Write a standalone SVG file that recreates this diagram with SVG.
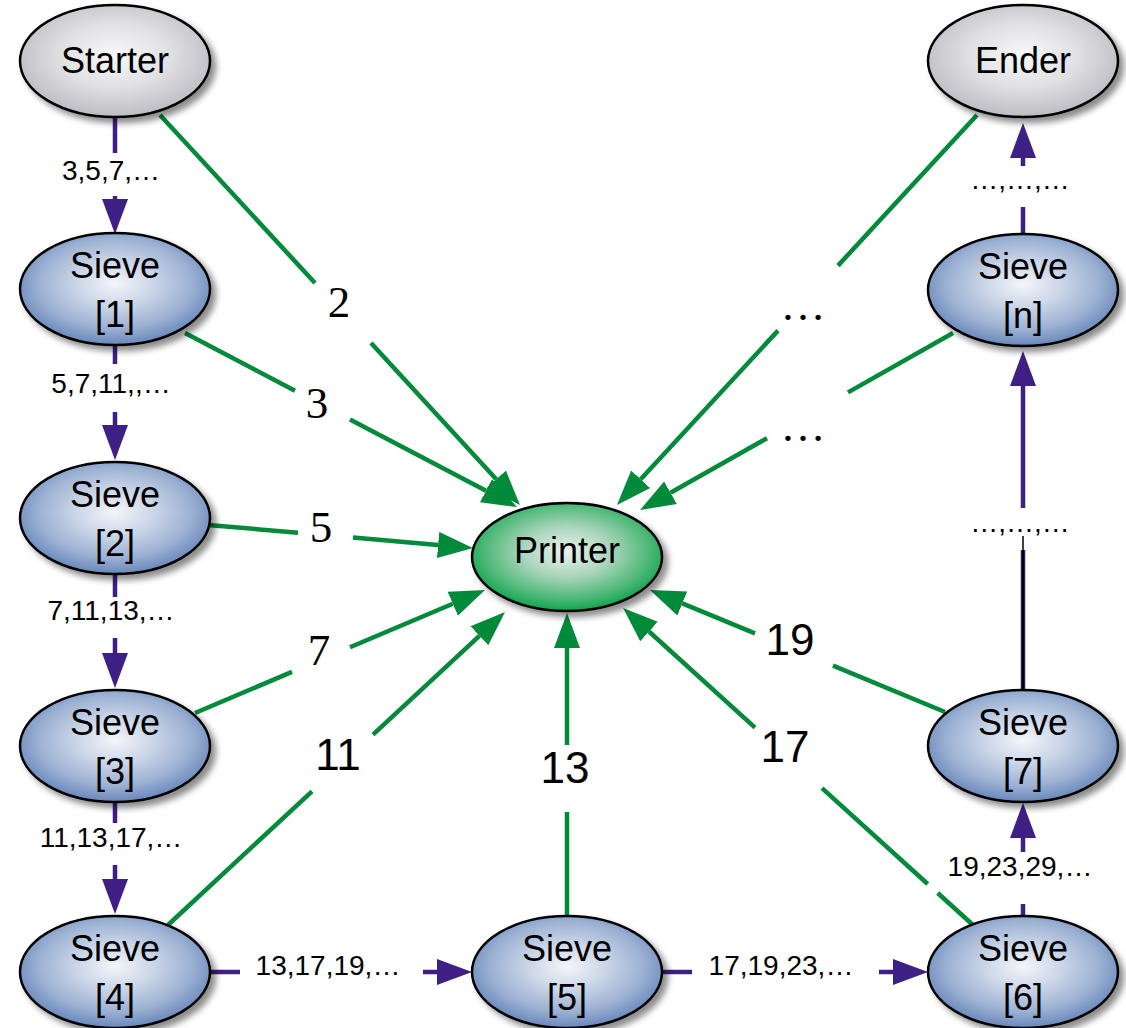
<svg xmlns="http://www.w3.org/2000/svg" width="1126" height="1028" viewBox="0 0 1126 1028">
<style>
.g{stroke:#008a3a;stroke-width:4.5;fill:none}
.p{stroke:#3e1f84;stroke-width:4.5;fill:none}
.nt{font-family:"Liberation Sans",Arial,sans-serif;font-size:36px;fill:#000;text-anchor:middle}
.sl{font-family:"Liberation Sans",Arial,sans-serif;font-size:28px;fill:#000;text-anchor:middle}
.bn{font-family:"Liberation Serif","Times New Roman",serif;font-size:45px;fill:#000;text-anchor:middle}
.bs{font-family:"Liberation Sans",Arial,sans-serif;font-size:44px;fill:#000;text-anchor:middle}
.el{stroke:#000;stroke-width:2.5;filter:url(#sh)}
</style>
<defs>
<radialGradient id="blue" cx="50%" cy="45%" r="58%">
<stop offset="0" stop-color="#f3f5f9"/>
<stop offset="0.35" stop-color="#cbd6e8"/>
<stop offset="0.7" stop-color="#9bb0d2"/>
<stop offset="1" stop-color="#5d7fb6"/>
</radialGradient>
<radialGradient id="gray" cx="50%" cy="45%" r="58%">
<stop offset="0" stop-color="#f8f8f9"/>
<stop offset="0.5" stop-color="#e0e0e3"/>
<stop offset="1" stop-color="#b8b8c0"/>
</radialGradient>
<radialGradient id="green" cx="50%" cy="45%" r="58%">
<stop offset="0" stop-color="#eaf3ee"/>
<stop offset="0.4" stop-color="#a9d5ba"/>
<stop offset="0.75" stop-color="#4db878"/>
<stop offset="1" stop-color="#00a043"/>
</radialGradient>
<filter id="sh" x="-20%" y="-20%" width="150%" height="160%">
<feDropShadow dx="5" dy="5" stdDeviation="3" flood-color="#000" flood-opacity="0.45"/>
</filter>
<marker id="ag" markerUnits="userSpaceOnUse" markerWidth="36" markerHeight="28" viewBox="0 -14 36 28" refX="0" refY="0" orient="auto">
<path d="M0,-13 L35,0 L0,13 z" fill="#008a3a"/>
</marker>
<marker id="ap" markerUnits="userSpaceOnUse" markerWidth="36" markerHeight="28" viewBox="0 -14 36 28" refX="0" refY="0" orient="auto">
<path d="M0,-13 L35,0 L0,13 z" fill="#3e1f84"/>
</marker>
</defs>
<rect width="1126" height="1028" fill="#fff"/>
<g id="connectors">
<line class="g" x1="160" y1="115" x2="315" y2="283"/>
<line class="g" x1="371" y1="343" x2="496.3" y2="479.3" marker-end="url(#ag)"/>
<line class="g" x1="185" y1="333" x2="295" y2="390.7"/>
<line class="g" x1="350" y1="419.5" x2="486" y2="490.8" marker-end="url(#ag)"/>
<line class="g" x1="208" y1="525" x2="298" y2="532.7"/>
<line class="g" x1="353" y1="537.5" x2="438.1" y2="545" marker-end="url(#ag)"/>
<line class="g" x1="195" y1="713" x2="292" y2="671.9"/>
<line class="g" x1="350" y1="647.3" x2="452.8" y2="603.7" marker-end="url(#ag)"/>
<line class="g" x1="168" y1="925" x2="312" y2="791.3"/>
<line class="g" x1="373" y1="734.6" x2="479.4" y2="635.8" marker-end="url(#ag)"/>
<line class="g" x1="567" y1="918" x2="567" y2="812"/>
<line class="g" x1="567" y1="745" x2="567" y2="648" marker-end="url(#ag)"/>
<line class="g" x1="973" y1="925" x2="937.7" y2="893"/>
<line class="g" x1="927.7" y1="884" x2="822" y2="788.2"/>
<line class="g" x1="755" y1="727.6" x2="649" y2="631.5" marker-end="url(#ag)"/>
<line class="g" x1="945" y1="712" x2="833" y2="665.7"/>
<line class="g" x1="755" y1="633.4" x2="682.3" y2="603.4" marker-end="url(#ag)"/>
<line class="g" x1="953" y1="333" x2="848" y2="392.4"/>
<line class="g" x1="767" y1="438.2" x2="670.5" y2="492.8" marker-end="url(#ag)"/>
<line class="g" x1="977" y1="115" x2="838" y2="265.6"/>
<line class="g" x1="778" y1="330.6" x2="640.7" y2="479.3" marker-end="url(#ag)"/>
<line class="p" x1="115" y1="118" x2="115" y2="153"/>
<line class="p" x1="115" y1="196" x2="115" y2="199" marker-end="url(#ap)"/>
<line class="p" x1="115" y1="345" x2="115" y2="364"/>
<line class="p" x1="115" y1="412" x2="115" y2="425" marker-end="url(#ap)"/>
<line class="p" x1="115" y1="574" x2="115" y2="597"/>
<line class="p" x1="115" y1="638" x2="115" y2="653" marker-end="url(#ap)"/>
<line class="p" x1="115" y1="802" x2="115" y2="823"/>
<line class="p" x1="115" y1="865" x2="115" y2="879" marker-end="url(#ap)"/>
<line class="p" x1="210" y1="972" x2="240" y2="972"/>
<line class="p" x1="423" y1="972" x2="437" y2="972" marker-end="url(#ap)"/>
<line class="p" x1="662" y1="972" x2="692" y2="972"/>
<line class="p" x1="879" y1="972" x2="893" y2="972" marker-end="url(#ap)"/>
<line class="p" x1="1023" y1="917" x2="1023" y2="904"/>
<line class="p" x1="1023" y1="852" x2="1023" y2="838" marker-end="url(#ap)"/>
<line class="p" x1="1023" y1="690" x2="1023" y2="550"/>
<line x1="1023" y1="690" x2="1023" y2="550" stroke="#000" stroke-width="2.5"/>
<line x1="1023" y1="550" x2="1023" y2="536" stroke="#000" stroke-width="1.5"/>
<line class="p" x1="1023" y1="508" x2="1023" y2="386" marker-end="url(#ap)"/>
<line class="p" x1="1023" y1="234" x2="1023" y2="207"/>
<line class="p" x1="1023" y1="166" x2="1023" y2="158" marker-end="url(#ap)"/>
<text class="sl" x="111" y="180">3,5,7,…</text>
<text class="sl" x="111" y="393">5,7,11,,…</text>
<text class="sl" x="111" y="620">7,11,13,…</text>
<text class="sl" x="111" y="847">11,13,17,…</text>
<text class="sl" x="328" y="975">13,17,19,…</text>
<text class="sl" x="781" y="975">17,19,23,…</text>
<text class="sl" x="1020" y="876">19,23,29,…</text>
<text class="sl" x="1020" y="532">…,…,…</text>
<text class="sl" x="1020" y="189">…,…,…</text>
<text class="bn" x="339" y="317">2</text>
<text class="bn" x="317" y="418">3</text>
<text class="bn" x="321" y="542">5</text>
<text class="bn" x="319" y="665">7</text>
<text class="bs" x="338" y="770">11</text>
<text class="bs" x="565" y="783">13</text>
<text class="bs" x="785" y="762">17</text>
<text class="bs" x="790" y="655">19</text>
<text class="bn" x="803" y="320">…</text>
<text class="bn" x="803" y="441">…</text>
</g>
<g id="starter"><ellipse class="el" cx="115" cy="61" rx="95" ry="56" fill="url(#gray)"/><text class="nt" x="115" y="73">Starter</text></g>
<g id="ender"><ellipse class="el" cx="1023" cy="61" rx="95" ry="56" fill="url(#gray)"/><text class="nt" x="1023" y="73">Ender</text></g>
<g id="printer"><ellipse class="el" cx="567" cy="557" rx="95" ry="54" fill="url(#green)"/><text class="nt" x="567" y="563">Printer</text></g>
<g id="sieve1"><ellipse class="el" cx="115" cy="289" rx="95" ry="56" fill="url(#blue)"/><text class="nt" x="115" y="278">Sieve</text><text class="nt" x="115" y="327">[1]</text></g>
<g id="sieve2"><ellipse class="el" cx="115" cy="518" rx="95" ry="56" fill="url(#blue)"/><text class="nt" x="115" y="507">Sieve</text><text class="nt" x="115" y="556">[2]</text></g>
<g id="sieve3"><ellipse class="el" cx="115" cy="746" rx="95" ry="56" fill="url(#blue)"/><text class="nt" x="115" y="735">Sieve</text><text class="nt" x="115" y="784">[3]</text></g>
<g id="sieve4"><ellipse class="el" cx="115" cy="972" rx="95" ry="56" fill="url(#blue)"/><text class="nt" x="115" y="961">Sieve</text><text class="nt" x="115" y="1010">[4]</text></g>
<g id="sieve5"><ellipse class="el" cx="567" cy="972" rx="95" ry="56" fill="url(#blue)"/><text class="nt" x="567" y="961">Sieve</text><text class="nt" x="567" y="1010">[5]</text></g>
<g id="sieve6"><ellipse class="el" cx="1023" cy="972" rx="95" ry="56" fill="url(#blue)"/><text class="nt" x="1023" y="961">Sieve</text><text class="nt" x="1023" y="1010">[6]</text></g>
<g id="sieve7"><ellipse class="el" cx="1023" cy="746" rx="95" ry="56" fill="url(#blue)"/><text class="nt" x="1023" y="735">Sieve</text><text class="nt" x="1023" y="784">[7]</text></g>
<g id="sieven"><ellipse class="el" cx="1023" cy="290" rx="95" ry="56" fill="url(#blue)"/><text class="nt" x="1023" y="279">Sieve</text><text class="nt" x="1023" y="328">[n]</text></g>
</svg>
